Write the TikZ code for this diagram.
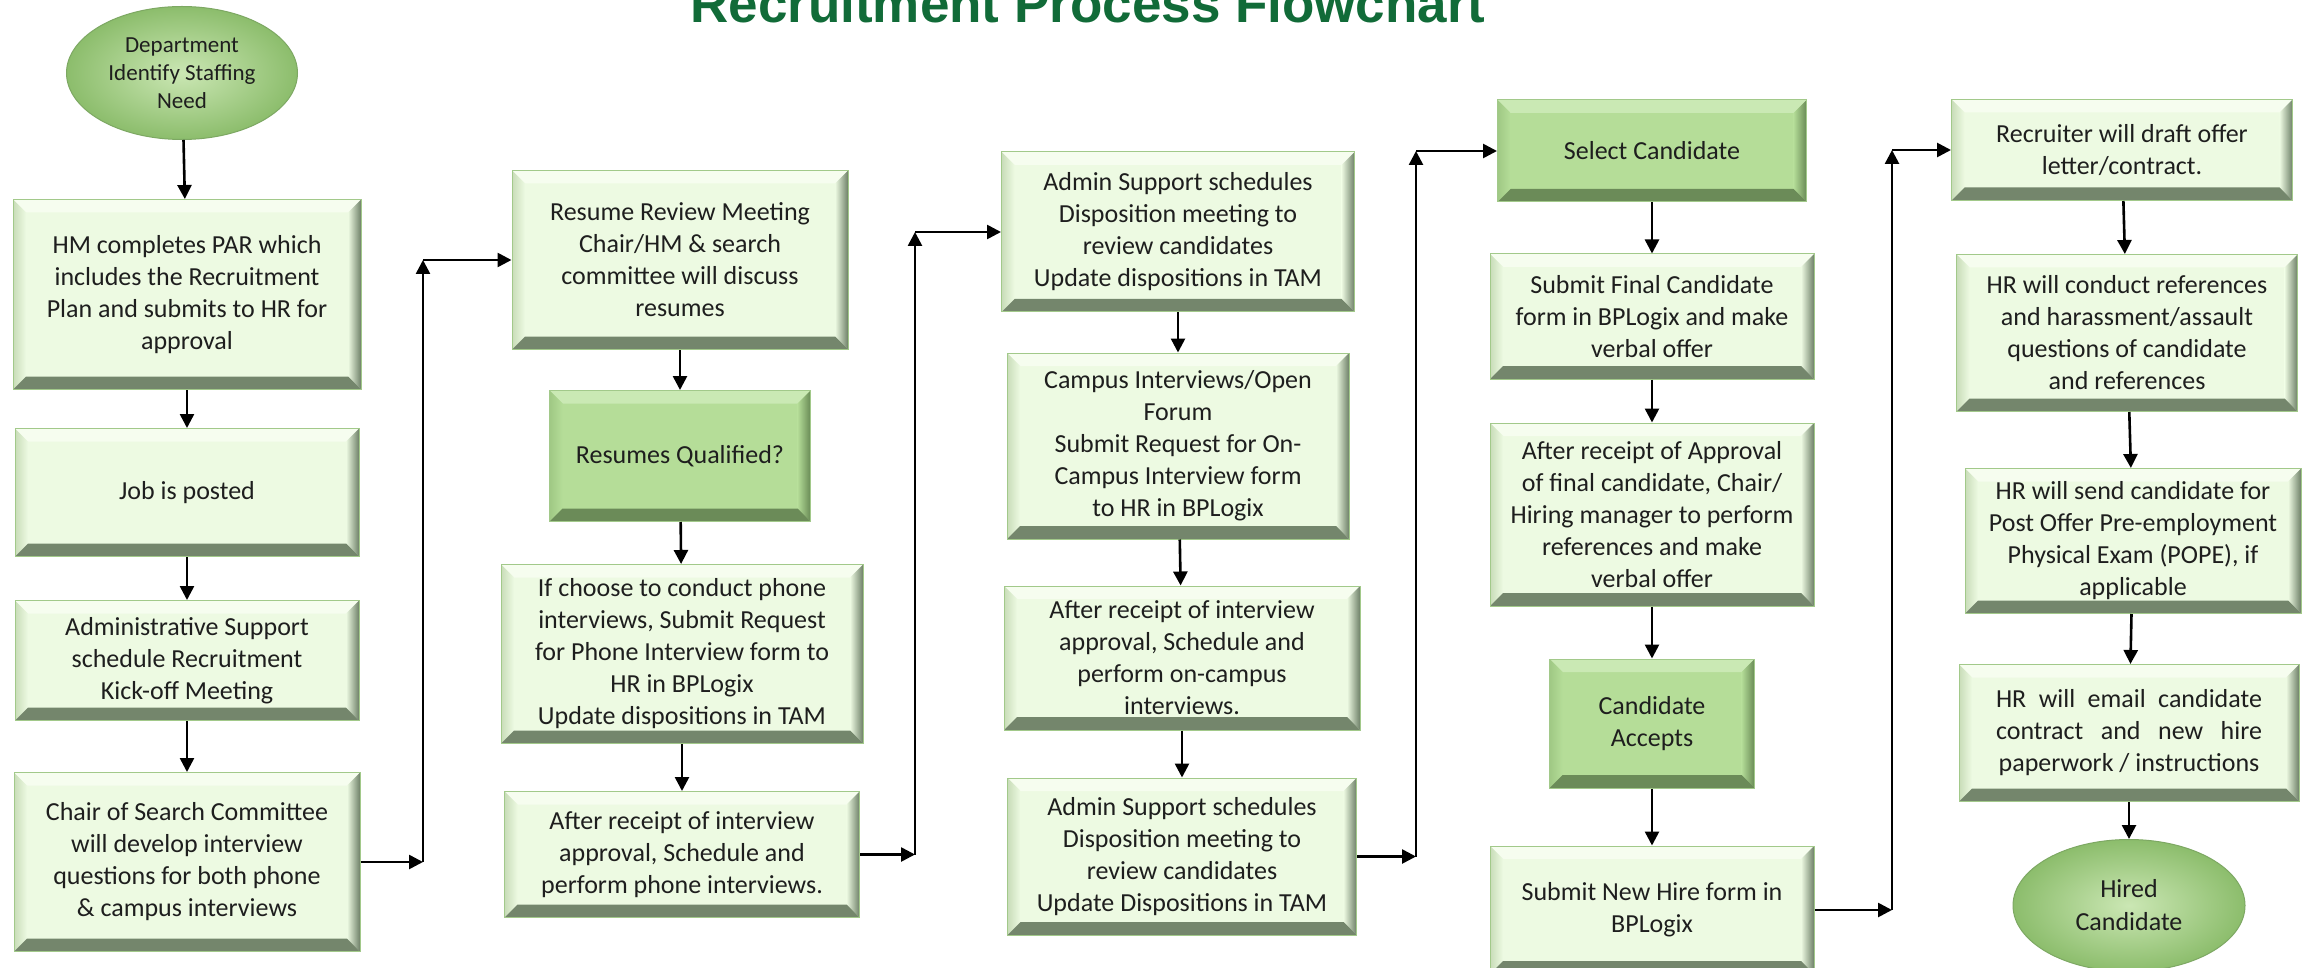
\documentclass[tikz,border=0pt]{standalone}
\usepackage{fontspec}
\setmainfont{Carlito}
\newfontfamily\titlefont{Liberation Sans}
\usetikzlibrary{positioning,shapes.geometric,arrows.meta}

\definecolor{facelight}{HTML}{EDFAE2}
\definecolor{toplight}{HTML}{F6FDEF}
\definecolor{leftlight}{HTML}{C8DCB8}
\definecolor{rightlight}{HTML}{6E8068}
\definecolor{botlight}{HTML}{74866C}
\definecolor{facedark}{HTML}{B5DD98}
\definecolor{topdark}{HTML}{CAE9B4}
\definecolor{leftdark}{HTML}{9FC884}
\definecolor{rightdark}{HTML}{688A55}
\definecolor{botdark}{HTML}{6B8B58}
\definecolor{edgegreen}{HTML}{A2C98A}
\definecolor{titlegreen}{HTML}{116B38}
\definecolor{ovalin}{HTML}{CBE7B4}
\definecolor{ovalout}{HTML}{8CBD6C}
\definecolor{ovaledge}{HTML}{7DA863}
\definecolor{inktext}{HTML}{1E1E1E}

\begin{document}
\begin{tikzpicture}[x=1pt,y=-1pt,>={Triangle[length=14pt,width=14pt]},line width=2.6pt,
    every node/.style={text=inktext},
    bevel/.style n args={5}{fill=#1,
        path picture={
            \path (path picture bounding box.north west) coordinate (pa)
                  (path picture bounding box.north east) coordinate (pb)
                  (path picture bounding box.south east) coordinate (pc)
                  (path picture bounding box.south west) coordinate (pd);
            \fill[#2] (pa) -- (pb) -- ([shift={(-13pt,-13pt)}]pb) -- ([shift={(13pt,-13pt)}]pa) -- cycle;
            \shade[left color=#3,right color=#1] (pa) -- ([shift={(13pt,-13pt)}]pa) -- ([shift={(13pt,13pt)}]pd) -- (pd) -- cycle;
            \shade[left color=#1,right color=#4] (pb) -- (pc) -- ([shift={(-13pt,13pt)}]pc) -- ([shift={(-13pt,-13pt)}]pb) -- cycle;
            \fill[#5] (pd) -- (pc) -- ([shift={(-13pt,13pt)}]pc) -- ([shift={(13pt,13pt)}]pd) -- cycle;
        }},
    boxsize/.style 2 args={minimum width=#1pt,minimum height=#2pt},
    stepbox/.style={rectangle,draw=edgegreen,line width=1pt,inner sep=4pt,align=center,
        font=\fontsize{26}{32}\selectfont,
        bevel={facelight}{toplight}{leftlight}{rightlight}{botlight}},
    choicebox/.style={stepbox,bevel={facedark}{topdark}{leftdark}{rightdark}{botdark}},
    startend/.style={ellipse,draw=ovaledge,line width=1pt,inner sep=0pt,align=center,
        inner color=ovalin,outer color=ovalout}]

    \useasboundingbox (0,0) rectangle (2310,968);
    \clip (0,0) rectangle (2310,968);
    \fill[white] (0,0) rectangle (2310,968);

    \node[font=\titlefont\bfseries\fontsize{53}{60}\selectfont,text=titlegreen,anchor=base] (title) at (1088,23) {Recruitment Process Flowchart};

    % first column
    \node[startend,minimum width=231pt,minimum height=133pt,font=\fontsize{23}{28}\selectfont] (e1) at (182,73) {Department\\Identify Staffing\\Need};
    \node[stepbox,boxsize={348}{190},below=59pt of e1,xshift=5pt] (b1) {HM completes PAR which\\includes the Recruitment\\Plan and submits to HR for\\approval};
    \node[stepbox,boxsize={344}{128},below=38pt of b1] (b2) {Job is posted};
    \node[stepbox,boxsize={344}{120},below=43pt of b2] (b3) {Administrative Support\\schedule Recruitment\\Kick-off Meeting};
    \node[stepbox,boxsize={346}{179},below=51pt of b3] (b4) {Chair of Search Committee\\will develop interview\\questions for both phone\\\& campus interviews};

    % second column
    \node[stepbox,boxsize={336}{179}] (b5) at (680,260) {Resume Review Meeting\\Chair/HM \& search\\committee will discuss\\resumes};
    \node[choicebox,boxsize={261}{131},below=40pt of b5] (b6) {Resumes Qualified?};
    \node[stepbox,boxsize={362}{179},below=42pt of b6,xshift=2pt] (b7) {If choose to conduct phone\\interviews, Submit Request\\for Phone Interview form to\\HR in BPLogix\\Update dispositions in TAM};
    \node[stepbox,boxsize={355}{126},below=47pt of b7] (b8) {After receipt of interview\\approval, Schedule and\\perform phone interviews.};

    % third column
    \node[stepbox,boxsize={353}{160}] (b9) at (1178,232) {Admin Support schedules\\Disposition meeting to\\review candidates\\Update dispositions in TAM};
    \node[stepbox,boxsize={342}{186},below=40pt of b9] (b10) {Campus Interviews/Open\\Forum\\Submit Request for On-\\Campus Interview form\\to HR in BPLogix};
    \node[stepbox,boxsize={356}{144},below=46pt of b10,xshift=4pt] (b11) {After receipt of interview\\approval, Schedule and\\perform on-campus\\interviews.};
    \node[stepbox,boxsize={349}{157},below=47pt of b11] (b12) {Admin Support schedules\\Disposition meeting to\\review candidates\\Update Dispositions in TAM};

    % fourth column
    \node[choicebox,boxsize={309}{102}] (b13) at (1652,151) {Select Candidate};
    \node[stepbox,boxsize={324}{125},below=51pt of b13] (b14) {Submit Final Candidate\\form in BPLogix and make\\verbal offer};
    \node[stepbox,boxsize={324}{183},below=43pt of b14] (b15) {After receipt of Approval\\of final candidate, Chair/\\Hiring manager to perform\\references and make\\verbal offer};
    \node[choicebox,boxsize={205}{129},below=52pt of b15] (b16) {Candidate\\Accepts};
    \node[stepbox,boxsize={324}{128},below=57pt of b16] (b17) {Submit New Hire form in\\BPLogix};

    % fifth column
    \node[stepbox,boxsize={341}{101}] (b18) at (2122,150) {Recruiter will draft offer\\letter/contract.};
    \node[stepbox,boxsize={341}{157},below=53pt of b18,xshift=5pt] (b19) {HR will conduct references\\and harassment/assault\\questions of candidate\\and references};
    \node[stepbox,boxsize={336}{145},below=56pt of b19,xshift=6pt] (b20) {HR will send candidate for\\Post Offer Pre-employment\\Physical Exam (POPE), if\\applicable};
    \node[stepbox,boxsize={340}{137},below=50pt of b20,xshift=-4pt] (b21) {\makebox[266pt][s]{HR will email candidate}\\\makebox[266pt][s]{contract and new hire}\\paperwork / instructions};
    \node[startend,minimum width=232pt,minimum height=132pt,font=\fontsize{26}{33}\selectfont,below=37pt of b21] (e2) {Hired\\Candidate};

    \coordinate (rise1) at (423,0);
    \coordinate (rise2) at (915,0);
    \coordinate (rise3) at (1416,0);
    \coordinate (rise4) at (1892,0);

    \draw[->] (e1) -- (b1);
    \draw[->] (b1) -- (b2);
    \draw[->] (b2) -- (b3);
    \draw[->] (b3) -- (b4);
    \draw[->] (b5) -- (b6);
    \draw[->] (b6) -- (b7);
    \draw[->] (b7) -- (b8);
    \draw[->] (b9) -- (b10);
    \draw[->] (b10) -- (b11);
    \draw[->] (b11) -- (b12);
    \draw[->] (b13) -- (b14);
    \draw[->] (b14) -- (b15);
    \draw[->] (b15) -- (b16);
    \draw[->] (b16) -- (b17);
    \draw[->] (b18) -- (b19);
    \draw[->] (b19) -- (b20);
    \draw[->] (b20) -- (b21);
    \draw[->] (b21) -- (e2);

    \draw[->] (b4.east) -- (b4.east -| rise1);
    \draw[->] (b4.east -| rise1) -- (b5.west -| rise1);
    \draw[->] (b5.west -| rise1) -- (b5.west);
    \draw[->] (b8.east) -- (b8.east -| rise2);
    \draw[->] (b8.east -| rise2) -- (b9.west -| rise2);
    \draw[->] (b9.west -| rise2) -- (b9.west);
    \draw[->] (b12.east) -- (b12.east -| rise3);
    \draw[->] (b12.east -| rise3) -- (b13.west -| rise3);
    \draw[->] (b13.west -| rise3) -- (b13.west);
    \draw[->] (b17.east) -- (b17.east -| rise4);
    \draw[->] (b17.east -| rise4) -- (b18.west -| rise4);
    \draw[->] (b18.west -| rise4) -- (b18.west);

    ;
\end{tikzpicture}
\end{document}
